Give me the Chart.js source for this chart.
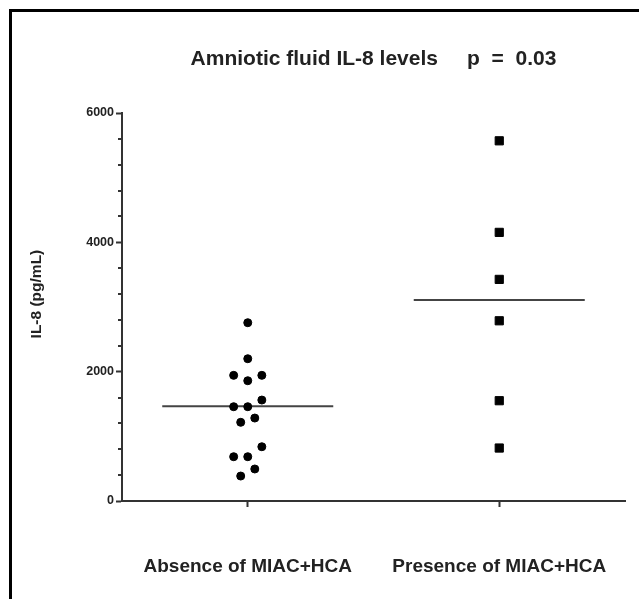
<!DOCTYPE html>
<html lang="en">
<head>
<meta charset="UTF-8">
<title>Amniotic fluid IL-8 levels</title>
<script src="https://cdn.jsdelivr.net/npm/chart.js"></script>
<style>
  body { margin: 0; background: #fff; }
  .wrap { position: relative; width: 639px; height: 599px; overflow: hidden; }
  .frame { position: absolute; left: 9px; top: 9px; width: 700px; height: 700px;
           border-left: 3px solid #000; border-top: 3px solid #000; }
  canvas { position: absolute; left: 0; top: 0; }
</style>
</head>
<body>
<div class="wrap">
  <canvas id="il8" width="639" height="599"></canvas>
  <div class="frame"></div>
</div>

<script>
// values (pg/mL)
const categories = ['Absence of MIAC+HCA', 'Presence of MIAC+HCA'];
const absenceValues = [2757, 2200, 1943, 1943, 1860, 1561, 1458, 1458, 1283, 1217, 839, 685, 685, 495, 386];
// column slot of each dot in the swarm (-2..2)
const absenceSlots = [0, 0, -2, 2, 0, 2, -2, 0, 1, -1, 2, -2, 0, 1, -1];
const presenceValues = [5570, 4154, 3427, 2787, 1551, 819];
const presenceSlots = [0, 0, 0, 0, 0, 0];
const medianValues = [1465, 3110];
const yTickLabels = [0, 2000, 4000, 6000];

const catX = [1, 3];
const slotStep = 0.056;
const halfBar = 0.68;
const FONT = '"Liberation Sans", Arial, sans-serif';

function toPoints(values, slots, cx) {
    return values.map((v, i) => ({ x: cx + slots[i] * slotStep, y: v }));
}

// short minor ticks on the y axis every 400
const minorTicks = {
    id: 'minorTicks',
    afterDraw(chart) {
        const y = chart.scales.y;
        const ctx = chart.ctx;
        const x0 = chart.chartArea.left;
        ctx.save();
        ctx.strokeStyle = '#333';
        ctx.lineWidth = 2;
        for (let v = 400; v < 6000; v += 400) {
            if (v % 2000 === 0) continue;
            const py = Math.round(y.getPixelForValue(v));
            ctx.beginPath();
            ctx.moveTo(x0 - 4, py);
            ctx.lineTo(x0, py);
            ctx.stroke();
        }
        ctx.restore();
    }
};

const ctx = document.getElementById('il8').getContext('2d');
new Chart(ctx, {
    type: 'scatter',
    data: {
        datasets: [
            {
                data: toPoints(absenceValues, absenceSlots, catX[0]),
                pointStyle: 'circle',
                pointRadius: 4,
                borderWidth: 1,
                backgroundColor: '#000',
                borderColor: '#000'
            },
            {
                data: toPoints(presenceValues, presenceSlots, catX[1]),
                pointStyle: 'rect',
                pointRadius: 5.8,
                borderWidth: 1,
                backgroundColor: '#000',
                borderColor: '#000'
            },
            ...medianValues.map((m, i) => ({
                type: 'line',
                data: [{ x: catX[i] - halfBar, y: m }, { x: catX[i] + halfBar, y: m }],
                borderColor: '#444',
                borderWidth: 2,
                pointRadius: 0,
                fill: false
            }))
        ]
    },
    options: {
        responsive: false,
        animation: false,
        devicePixelRatio: 1,
        layout: { padding: { left: 0, right: 14, top: 0, bottom: 0 } },
        plugins: {
            legend: { display: false },
            tooltip: { enabled: false },
            title: {
                display: true,
                fullSize: false,
                text: 'Amniotic fluid IL-8 levels     p  =  0.03',
                color: '#222',
                font: { family: FONT, size: 21, weight: 'bold' },
                padding: { top: 47, bottom: 40.8 }
            }
        },
        scales: {
            x: {
                type: 'linear',
                min: 0,
                max: 4,
                afterBuildTicks: (scale) => { scale.ticks = catX.map(v => ({ value: v })); },
                afterFit: (scale) => {
                    scale.height = 98;
                    scale.paddingLeft = 0;
                    scale.paddingRight = 0;
                },
                ticks: {
                    autoSkip: false,
                    maxRotation: 0,
                    padding: 48,
                    color: '#222',
                    font: { family: FONT, size: 19, weight: 'bold' },
                    callback: (v) => categories[catX.indexOf(v)]
                },
                grid: { drawOnChartArea: false, tickLength: 6, tickWidth: 2, tickColor: '#333' },
                border: { display: true, width: 2, color: '#333' }
            },
            y: {
                min: 0,
                max: 6000,
                afterBuildTicks: (scale) => { scale.ticks = yTickLabels.map(v => ({ value: v })); },
                afterFit: (scale) => { scale.width = 122; },
                ticks: {
                    padding: 2,
                    color: '#222',
                    font: { family: FONT, size: 12.5, weight: 'bold' },
                    callback: (v) => String(v)
                },
                grid: { drawOnChartArea: false, tickLength: 6, tickWidth: 2, tickColor: '#333' },
                border: { display: true, width: 2, color: '#333' },
                title: {
                    display: true,
                    text: '      IL-8 (pg/mL)',
                    color: '#222',
                    font: { family: FONT, size: 15.5, weight: 'bold' },
                    padding: { top: 27, bottom: 0 }
                }
            }
        }
    },
    plugins: [minorTicks]
});
</script>
</body>
</html>
